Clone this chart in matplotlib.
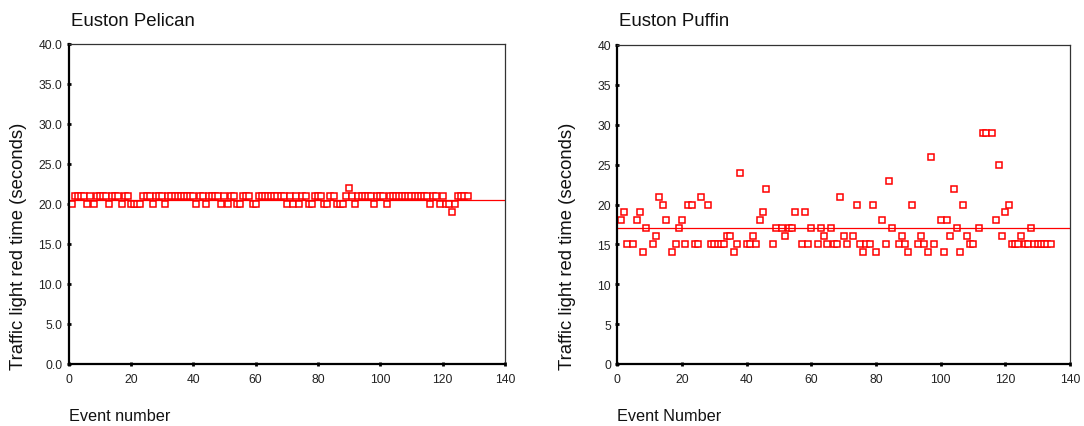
import numpy as np
import matplotlib
matplotlib.use("Agg")
import matplotlib.pyplot as plt

plt.rcParams.update({
    "font.family": "Liberation Sans",
    "font.size": 8.5,
})

# Euston Pelican: red time per event (events 1..128)
pelican_red = [20, 21, 21, 21, 21, 20, 21, 20, 21, 21,
               21, 21, 20, 21, 21, 21, 20, 21, 21, 20,
               20, 20, 20, 21, 21, 21, 20, 21, 21, 21,
               20, 21, 21, 21, 21, 21, 21, 21, 21, 21,
               20, 21, 21, 20, 21, 21, 21, 21, 20, 21,
               20, 21, 21, 20, 20, 21, 21, 21, 20, 20,
               21, 21, 21, 21, 21, 21, 21, 21, 21, 20,
               21, 20, 21, 20, 21, 21, 20, 20, 21, 21,
               21, 20, 20, 21, 21, 20, 20, 20, 21, 22,
               21, 20, 21, 21, 21, 21, 21, 20, 21, 21,
               21, 20, 21, 21, 21, 21, 21, 21, 21, 21,
               21, 21, 21, 21, 21, 20, 21, 21, 20, 21,
               20, 20, 19, 20, 21, 21, 21, 21]
pelican_event = list(range(1, len(pelican_red) + 1))
pelican_mean = 20.5

# Euston Puffin: event number and red time
puffin_event = [1, 2, 3, 5, 6, 7, 8, 9, 11, 12, 13, 14, 15, 17, 18, 19, 20,
                21, 22, 23, 24, 25, 26, 28, 29, 30, 31, 32, 33, 34, 35, 36,
                37, 38, 40, 41, 42, 43, 44, 45, 46, 48, 49, 51, 52, 53, 54,
                55, 57, 58, 59, 60, 62, 63, 64, 65, 66, 67, 68, 69, 70, 71,
                73, 74, 75, 76, 77, 78, 79, 80, 82, 83, 84, 85, 87, 88, 89,
                90, 91, 93, 94, 95, 96, 97, 98, 100, 101, 102, 103, 104, 105,
                106, 107, 108, 109, 110, 112, 113, 114, 116, 117, 118, 119,
                120, 121, 122, 123, 124, 125, 126, 127, 128, 129, 130, 131,
                132, 133, 134]
puffin_red = [18, 19, 15, 15, 18, 19, 14, 17, 15, 16, 21, 20, 18, 14, 15, 17, 18,
              15, 20, 20, 15, 15, 21, 20, 15, 15, 15, 15, 15, 16, 16, 14,
              15, 24, 15, 15, 16, 15, 18, 19, 22, 15, 17, 17, 16, 17, 17,
              19, 15, 19, 15, 17, 15, 17, 16, 15, 17, 15, 15, 21, 16, 15,
              16, 20, 15, 14, 15, 15, 20, 14, 18, 15, 23, 17, 15, 16, 15,
              14, 20, 15, 16, 15, 14, 26, 15, 18, 14, 18, 16, 22, 17,
              14, 20, 16, 15, 15, 17, 29, 29, 29, 18, 25, 16,
              19, 20, 15, 15, 15, 16, 15, 15, 17, 15, 15, 15,
              15, 15, 15]
puffin_mean = 17.1

titles = ["Euston Pelican", "Euston Puffin"]
xlabels = ["Event number", "Event Number"]
ylabel = "Traffic light red time (seconds)"

W, H = 1084, 427
fig = plt.figure(figsize=(W / 100, H / 100), dpi=100)

# axes boxes in pixels: left, right, top, bottom
boxes = [(68.6, 505.0, 45.0, 364.5), (617.3, 1070.0, 46.0, 365.0)]
axes = []
for (l, r, t, b) in boxes:
    axes.append(fig.add_axes([l / W, 1 - b / H, (r - l) / W, (b - t) / H]))

series = [(pelican_event, pelican_red, pelican_mean, "%.1f"),
          (puffin_event, puffin_red, puffin_mean, "%d")]

for i, ax in enumerate(axes):
    ev, val, m, fmt = series[i]
    ax.plot(ev, val, ls="none", marker="s", ms=3.8, mew=1.1,
            mec="#ff0000", mfc="white")
    ax.axhline(m, color="#ff0000", lw=0.9)
    ax.set_xlim(0, 140)
    ax.set_ylim(0, 40)
    ax.set_xticks(np.arange(0, 141, 20))
    ax.set_yticks(np.arange(0, 41, 5))
    ax.set_yticklabels([fmt % v for v in np.arange(0, 41, 5)])
    ax.tick_params(direction="inout", length=3, width=2, color="black",
                   labelsize=8.7, labelcolor="#222222")
    ax.tick_params(axis="y", pad=3)
    ax.tick_params(axis="x", pad=5)
    for s in ["left", "bottom"]:
        ax.spines[s].set_linewidth(1.6)
        ax.spines[s].set_color("black")
    for s in ["top", "right"]:
        ax.spines[s].set_linewidth(0.9)
        ax.spines[s].set_color("#333333")

    l, r, t, b = boxes[i]
    fig.text((l + 2) / W, 1 - 21 / H, titles[i], fontsize=13.4,
             ha="left", va="center", color="#111111")
    fig.text(l / W, 1 - 417 / H, xlabels[i], fontsize=11.7,
             ha="left", va="center", color="#111111")
    fig.text((l - 50) / W, 1 - 370 / H, ylabel, fontsize=13.3, rotation=90,
             rotation_mode="anchor", ha="left", va="center", color="#111111")

fig.savefig("out.png", dpi=100)
